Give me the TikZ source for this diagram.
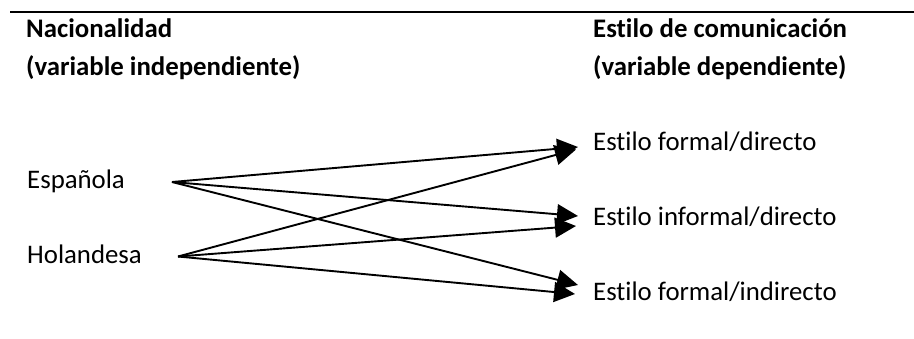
\documentclass[tikz,border=0pt]{standalone}
\usepackage{fontspec}
\setmainfont[RawFeature=-liga]{Carlito}
\usetikzlibrary{arrows.meta}

\tikzset{
  label/.style={anchor=base west, inner sep=0pt, font=\fontsize{26.8}{31}\selectfont},
  heading/.style={label, font=\fontsize{26.8}{31}\selectfont\bfseries},
  link/.style={line width=1.9pt, -{Triangle[length=21pt,width=20pt]}},
}

\begin{document}
\begin{tikzpicture}[x=1pt,y=-1pt]
  \useasboundingbox (0,0) rectangle (914,338);
  \fill[white] (0,0) rectangle (914,338);

  % top rule
  \draw[line width=2pt] (10,11.7) -- (914,11.7);

  % column headings
  \node[heading] (h1) at (26,37) {Nacionalidad};
  \node[heading] (h2) at (26,75) {(variable independiente)};
  \node[heading] (h3) at (593,37) {Estilo de comunicación};
  \node[heading] (h4) at (593,75) {(variable dependiente)};

  % independent values
  \node[label] (esp) at (27,188) {Española};
  \node[label] (hol) at (27,263) {Holandesa};

  % dependent values
  \node[label] (fd) at (593,150.7) {Estilo formal/directo};
  \node[label] (id) at (593,225.7) {Estilo informal/directo};
  \node[label] (fi) at (593,300) {Estilo formal/indirecto};

  % line origins and arrow tips
  \coordinate (espout) at (172,182);
  \coordinate (holout) at (178,256.5);
  \coordinate (fdA) at (578,147);
  \coordinate (fdB) at (576,149.5);
  \coordinate (idA) at (578,216);
  \coordinate (idB) at (576,226);
  \coordinate (fiA) at (578,285);
  \coordinate (fiB) at (575,294);

  % relations
  \draw[link] (espout) -- (fdA);
  \draw[link] (espout) -- (idA);
  \draw[link] (espout) -- (fiA);
  \draw[link] (holout) -- (fdB);
  \draw[link] (holout) -- (idB);
  \draw[link] (holout) -- (fiB);
\end{tikzpicture}
\end{document}
